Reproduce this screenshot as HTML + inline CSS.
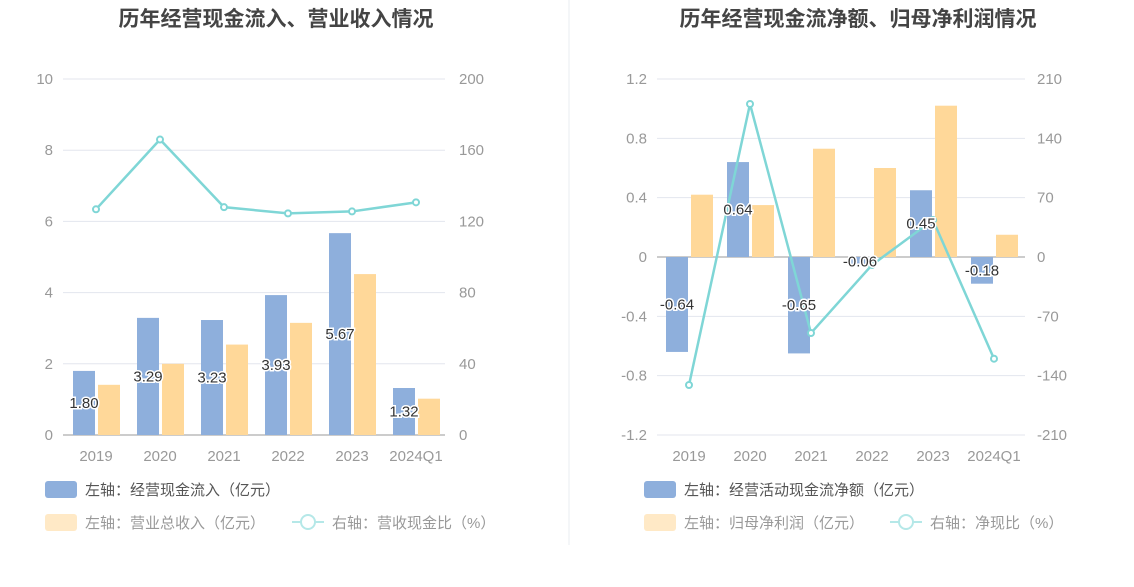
<!DOCTYPE html>
<html><head><meta charset="utf-8"><style>
body{margin:0;background:#fff;font-family:"Liberation Sans","Noto Sans CJK SC",sans-serif;}
svg text{font-family:"Liberation Sans","Noto Sans CJK SC",sans-serif;}
</style></head><body>
<svg id="c" width="1134" height="582" xmlns="http://www.w3.org/2000/svg">
<line x1="569" y1="0" x2="569" y2="545" stroke="#e8ecf2"/>
<text x="276" y="26" text-anchor="middle" font-size="21" font-weight="bold" fill="#444">历年经营现金流入、营业收入情况</text>
<text x="858" y="26" text-anchor="middle" font-size="21" font-weight="bold" fill="#444">历年经营现金流净额、归母净利润情况</text>
<g id="g1"></g>
<g id="g2"></g>
<g>
<rect x="45" y="481" width="32" height="17" rx="3" fill="#8eafdc"/>
<text x="85" y="495" font-size="15" fill="#555">左轴：经营现金流入（亿元）</text>
<rect x="45" y="514" width="32" height="17" rx="3" fill="#ffe9c6"/>
<text x="85" y="528" font-size="15" fill="#999">左轴：营业总收入（亿元）</text>
<line x1="292" y1="522" x2="324" y2="522" stroke="#b5e8e8" stroke-width="2"/>
<circle cx="308" cy="522" r="7" fill="#fff" stroke="#b5e8e8" stroke-width="2"/>
<text x="332" y="528" font-size="15" fill="#999">右轴：营收现金比（%）</text>
<rect x="644" y="481" width="32" height="17" rx="3" fill="#8eafdc"/>
<text x="684" y="495" font-size="15" fill="#555">左轴：经营活动现金流净额（亿元）</text>
<rect x="644" y="514" width="32" height="17" rx="3" fill="#ffe9c6"/>
<text x="684" y="528" font-size="15" fill="#999">左轴：归母净利润（亿元）</text>
<line x1="890" y1="522" x2="922" y2="522" stroke="#b5e8e8" stroke-width="2"/>
<circle cx="906" cy="522" r="7" fill="#fff" stroke="#b5e8e8" stroke-width="2"/>
<text x="930" y="528" font-size="15" fill="#999">右轴：净现比（%）</text>
</g>
</svg>
<script>
const categories=["2019","2020","2021","2022","2023","2024Q1"];
const inflow=[1.80,3.29,3.23,3.93,5.67,1.32];
const revenue=[1.41,2.0,2.54,3.15,4.52,1.02];
const ratio=[126.8,166,128,124.5,125.6,130.7];
const leftTicks1=[0,2,4,6,8,10];
const rightTicks1=[0,40,80,120,160,200];
const netcf=[-0.64,0.64,-0.65,-0.06,0.45,-0.18];
const profit=[0.42,0.35,0.73,0.60,1.02,0.15];
const netRatio=[-151,180.5,-89.7,-9.4,43.6,-120];
const leftTicks2=[-1.2,-0.8,-0.4,0,0.4,0.8,1.2];
const rightTicks2=[-210,-140,-70,0,70,140,210];
const NS="http://www.w3.org/2000/svg";
function mk(p,t,a){const e=document.createElementNS(NS,t);for(const k in a)e.setAttribute(k,a[k]);p.appendChild(e);return e;}
function draw(g,o){
  const yL=v=>o.top+(o.lmax-v)/(o.lmax-o.lmin)*(o.bot-o.top);
  const yR=v=>o.top+(o.rmax-v)/(o.rmax-o.rmin)*(o.bot-o.top);
  const x=i=>o.x0+i*o.dx;
  o.lt.forEach((t,i)=>{
    const y=yL(t);
    const gl=mk(g,'line',{x1:o.gx1,x2:o.gx2,y1:y,y2:y,stroke:'#e3e6ee'});
    
    
    const tl=mk(g,'text',{x:o.lx,y:y+5,'text-anchor':'end','font-size':15,fill:'#999'});tl.textContent=t;
    
    
    const tr=mk(g,'text',{x:o.rx,y:yR(o.rt[i])+5,'font-size':15,fill:'#999'});tr.textContent=o.rt[i];
    
    
  });
  const z=yL(0);
  mk(g,'line',{x1:o.gx1,x2:o.gx2,y1:z,y2:z,stroke:'#999'});
  categories.forEach((c,i)=>{
    const t=mk(g,'text',{x:x(i),y:461,'text-anchor':'middle','font-size':15,fill:'#999'});t.textContent=c;
    
    
    const b=o.a[i];
    const r=mk(g,'rect',{x:x(i)-23,y:Math.min(yL(b),z),width:22,height:Math.abs(yL(b)-z),fill:'#8eafdc'});
    
    
    const b2=o.b[i];
    const r2=mk(g,'rect',{x:x(i)+2,y:Math.min(yL(b2),z),width:22,height:Math.abs(yL(b2)-z),fill:'#ffd899'});
    
    
  });
  const pts=o.l.map((v,i)=>x(i)+','+yR(v)).join(' ');
  const pl=mk(g,'polyline',{points:pts,fill:'none',stroke:'#7fd6d6','stroke-width':2.5});
  
  
  o.l.forEach((v,i)=>{
    const c=mk(g,'circle',{cx:x(i),cy:yR(v),r:3,fill:'#fff',stroke:'#7fd6d6','stroke-width':2});
    
    
  });
  o.a.forEach((v,i)=>{
    const ly=o.mid?(yL(v)+z)/2+5:(yL(v)+z)/2+5;
    const t=mk(g,'text',{x:x(i)-12,y:ly,'text-anchor':'middle','font-size':15,fill:'#333',stroke:'#fff','stroke-width':3,'paint-order':'stroke'});
    t.textContent=v.toFixed(2);
    
    
  });
}
draw(document.getElementById('g1'),{top:79,bot:435,lmin:0,lmax:10,rmin:0,rmax:200,x0:96,dx:64,gx1:63,gx2:445,lx:53,rx:459,lt:leftTicks1,rt:rightTicks1,a:inflow,b:revenue,l:ratio});
draw(document.getElementById('g2'),{top:79,bot:435,lmin:-1.2,lmax:1.2,rmin:-210,rmax:210,x0:689,dx:61,gx1:657,gx2:1025,lx:647,rx:1037,lt:leftTicks2,rt:rightTicks2,a:netcf,b:profit,l:netRatio});
</script>
</body></html>
